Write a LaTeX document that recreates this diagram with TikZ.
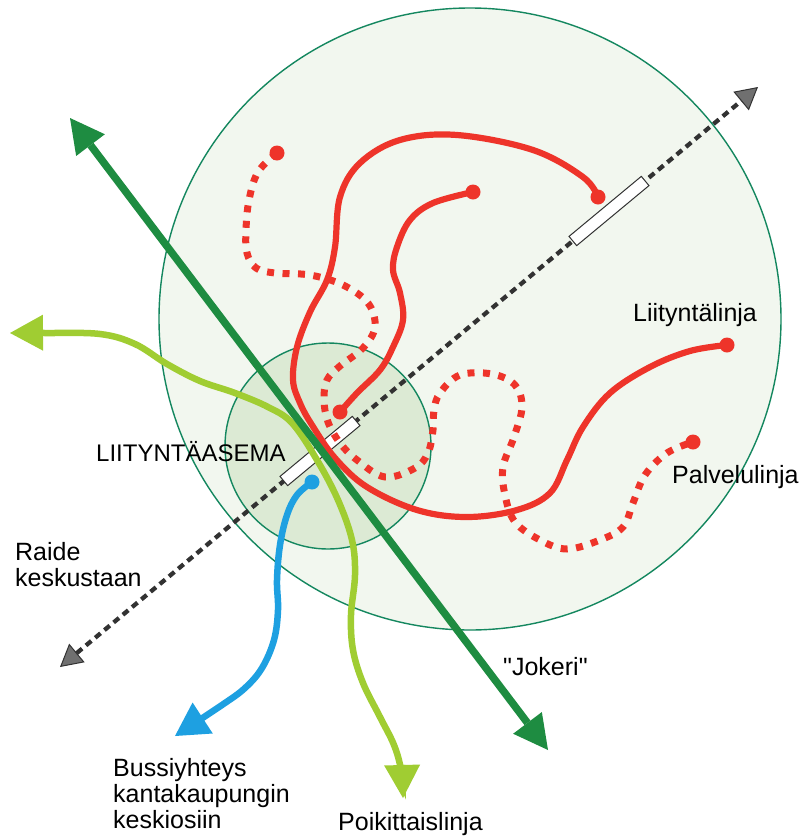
\documentclass[tikz,border=0pt]{standalone}
\usepackage{fontspec}
\setmainfont{Liberation Sans}
\newfontfamily\plainfont{Liberation Sans}
\usetikzlibrary{arrows.meta}
\definecolor{bigfill}{RGB}{242,247,239}
\definecolor{smallfill}{RGB}{220,234,212}
\definecolor{ringcol}{RGB}{20,135,95}
\definecolor{jokericol}{RGB}{30,140,65}
\definecolor{poikcol}{RGB}{160,205,50}
\definecolor{busblue}{RGB}{30,160,225}
\definecolor{linered}{RGB}{238,52,42}
\definecolor{raildark}{RGB}{50,50,50}
\definecolor{railtip}{RGB}{112,112,112}
\begin{document}
\begin{tikzpicture}[x=1pt,y=-1pt,
  zonering/.style={circle, draw=ringcol, line width=1.4pt, inner sep=0pt},
  railline/.style={draw=raildark, line width=4.3pt, dash pattern=on 7pt off 5pt,
    {Triangle[length=22pt,width=24pt,fill=railtip,line width=1pt]}-{Triangle[length=22pt,width=24pt,fill=railtip,line width=1pt]}},
  platform/.style={draw=raildark, fill=white, line width=1pt, minimum width=94pt, minimum height=12pt, inner sep=0pt, rotate=39.7},
  feeder/.style={draw=linered, line width=6.2pt, line cap=round},
  service/.style={draw=linered, line width=7pt, dash pattern=on 7pt off 8.5pt},
  reddot/.style={circle, fill=linered, minimum size=15pt, inner sep=0pt},
  bluedot/.style={circle, fill=busblue, minimum size=15pt, inner sep=0pt},
  jokeri/.style={draw=jokericol, line width=7.5pt,
    {Triangle[length=34pt,width=36pt,fill=jokericol,line width=0pt]}-{Triangle[length=34pt,width=36pt,fill=jokericol,line width=0pt]}},
  poik/.style={draw=poikcol, line width=6.5pt,
    {Triangle[length=33pt,width=36pt,fill=poikcol,line width=0pt]}-{Triangle[length=33pt,width=36pt,fill=poikcol,line width=0pt]}},
  bus/.style={draw=busblue, line width=6.5pt,
    -{Triangle[length=33pt,width=37pt,fill=busblue,line width=0pt]}},
  lbl/.style={inner sep=0pt, font=\plainfont\fontsize{25}{26}\selectfont, text=black},
]
\useasboundingbox (0,0) rectangle (805,836);
\fill[white] (0,0) rectangle (805,836);

% zones
\node[zonering, fill=bigfill, minimum size=622pt] (zone) at (470,319) {};
\node[zonering, fill=smallfill, minimum size=206pt] (station) at (328,446) {};

% rail
\coordinate (railS) at (60,667);
\coordinate (railN) at (758,87);
\draw[railline] (railS) -- (railN);
\node[platform] (platA) at (320,451) {};
\node[platform] (platB) at (609,211) {};

% red dots (end points)
\node[reddot] (r1a) at (598,197) {};
\node[reddot] (r1b) at (727,345) {};
\node[reddot] (r2a) at (473,192) {};
\node[reddot] (r2b) at (340,412) {};
\node[reddot] (p1a) at (277,153) {};
\node[reddot] (p1b) at (693,442) {};

% feeder lines (solid red)
\draw[feeder] plot[smooth, tension=0.6] coordinates {(r1a) (583,177) (533,150) (457,135) (400,140) (360,163) (340,197) (335,247) (327,280) (310,312) (297,347) (293,380) (300,403) (312,425) (335,458) (367,487) (417,510) (467,517) (517,510) (550,493) (567,460) (583,427) (610,393) (650,367) (690,351) (r1b)};
\draw[feeder] plot[smooth, tension=0.6] coordinates {(r2a) (433,203) (410,220) (397,247) (393,270) (400,293) (403,320) (393,347) (380,370) (357,393) (r2b)};

% service line (dotted red)
\draw[service] plot[smooth, tension=0.6] coordinates {(p1a) (258,172) (249,200) (246,230) (247,253) (256,268) (275,273) (310,275) (343,285) (368,303) (375,327) (363,348) (340,366) (327,380) (324,400) (328,422) (340,443) (357,460) (385,477) (415,468) (428,453) (433,430) (434,410) (440,393) (460,375) (492,374) (515,385) (522,407) (514,437) (503,467) (505,495) (515,522) (540,540) (567,549) (600,540) (623,527) (633,503) (645,475) (667,453) (p1b)};

% cross line (light green)
\coordinate (poikW) at (10,333);
\coordinate (poikS) at (403,798);
\draw[poik] plot[smooth, tension=0.6] coordinates {(poikW) (45,333) (100,334) (135,344) (167,364) (200,381) (235,393) (268,407) (292,423) (317,460) (338,500) (352,540) (355,575) (351,615) (353,650) (363,683) (380,717) (394,745) (401,770) (poikS)};

% Jokeri (dark green)
\coordinate (jokN) at (70,118);
\coordinate (jokS) at (548,750);
\draw[jokeri] (jokN) -- (jokS);

% bus (blue)
\coordinate (busEnd) at (175,736);
\draw[bus] plot[smooth, tension=0.6] coordinates {(312,482) (297,495) (287,515) (280,545) (277,580) (278,610) (274,640) (262,668) (245,688) (222,705) (busEnd)};
\node[bluedot] (busdot) at (312,482) {};

% labels
\node[lbl, anchor=base west, font=\plainfont\fontsize{24}{26}\selectfont] (tStation) at (96,461) {LIITYNTÄASEMA};
\node[lbl, anchor=north west, align=left] (tRaide) at (15,542.5) {Raide\\keskustaan};
\node[lbl, anchor=base west] (tLiit) at (633,321) {Liityntälinja};
\node[lbl, anchor=base west] (tPalv) at (672,483) {Palvelulinja};
\node[lbl, anchor=base west] (tJok) at (503,675) {"Jokeri"};
\node[lbl, anchor=north west, align=left] (tBus) at (113,758) {Bussiyhteys\\kantakaupungin\\keskiosiin};
\node[lbl, anchor=base west] (tPoik) at (338,830) {Poikittaislinja};
\end{tikzpicture}
\end{document}
